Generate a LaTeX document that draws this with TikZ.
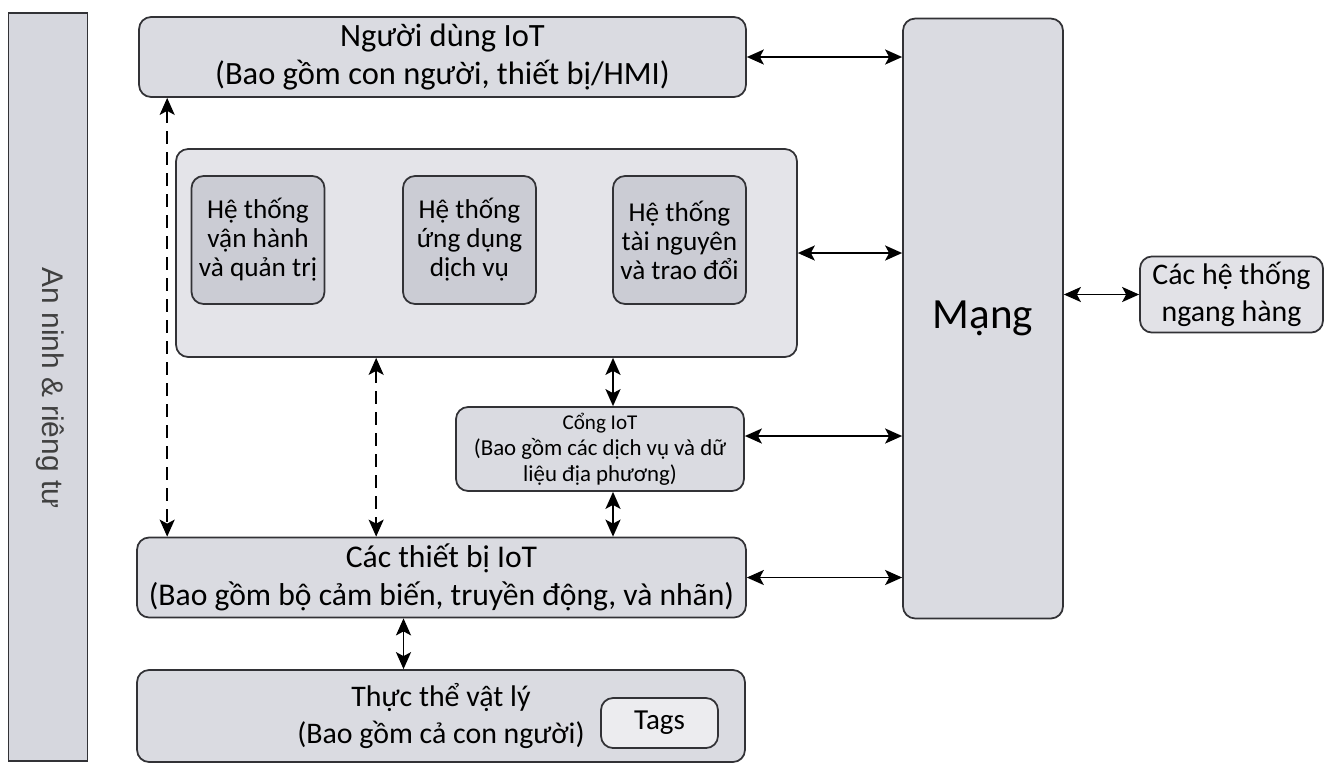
\documentclass[tikz,border=0pt]{standalone}
\usepackage{fontspec}
\setmainfont{Carlito}
\newfontfamily\barfont{Liberation Sans}
\usetikzlibrary{arrows.meta,positioning}
\definecolor{edgegray}{RGB}{50,50,54}
\definecolor{boxgray}{RGB}{218,219,225}
\definecolor{innergray}{RGB}{203,204,212}
\definecolor{appsgray}{RGB}{228,228,233}
\definecolor{bargray}{RGB}{214,215,222}
\definecolor{tagsgray}{RGB}{236,236,239}
\definecolor{peergray}{RGB}{226,226,231}
\begin{document}
\begin{tikzpicture}[x=0.02cm, y=-0.02cm,
  box/.style={draw=edgegray, line width=1pt, fill=boxgray, rounded corners=0.24cm, align=center},
  sysbox/.style={box, fill=innergray, minimum width=2.66cm, minimum height=2.56cm, font=\fontsize{15.5}{16.5}\selectfont},
  wide/.style={box, font=\fontsize{18.5}{21.5}\selectfont},
  link/.style={{Stealth[length=0.34cm,width=0.3cm,inset=0.08cm]}-{Stealth[length=0.34cm,width=0.3cm,inset=0.08cm]}, line width=1.1pt},
  dashlink/.style={link, dash pattern=on 0.26cm off 0.16cm}]
\useasboundingbox (0,0) rectangle (1324,769);
% security bar on the left
\node[draw=edgegray, line width=1pt, fill=bargray, minimum width=1.58cm, minimum height=14.96cm] (sec) at (48,387) {};
\node[rotate=-90, font=\barfont\fontsize{17}{20}\selectfont, text=black!75] (sectxt) at (50,388) {An ninh \& riêng tư};
% layers
\node[wide, minimum width=12.14cm, minimum height=1.6cm] (user) at (442.5,57) {Người dùng IoT\\(Bao gồm con người, thiết bị/HMI)};
\node[box, fill=appsgray, minimum width=12.42cm, minimum height=4.16cm] (apps) at (486.5,253) {};
\node[sysbox] (ops) at (258,240) {Hệ thống\\vận hành\\và quản trị};
\node[sysbox] (svc) at (469.5,240) {Hệ thống\\ứng dụng\\dịch vụ};
\node[sysbox] (res) at (679.5,240) {Hệ thống\\tài nguyên\\và trao đổi};
\node[box, minimum width=5.76cm, minimum height=1.56cm, font=\fontsize{13}{14.8}\selectfont] (gw) at (600,449)
  {{\fontsize{12}{14}\selectfont Cổng IoT}\\(Bao gồm các dịch vụ và dữ\\liệu địa phương)};
\node[wide, font=\fontsize{18}{21.5}\selectfont, minimum width=12.18cm, minimum height=1.6cm] (dev) at (441.5,577.5) {Các thiết bị IoT\\(Bao gồm bộ cảm biến, truyền động, và nhãn)};
\node[wide, font=\fontsize{17}{21}\selectfont, minimum width=12.16cm, minimum height=1.84cm] (phys) at (441,716) {Thực thể vật lý\\(Bao gồm cả con người)};
\node[box, fill=tagsgray, minimum width=2.34cm, minimum height=1cm, font=\fontsize{16.5}{18}\selectfont] (tags) at (659.5,723) {Tags};
% network and peers
\node[box, minimum width=3.2cm, minimum height=12cm, font=\fontsize{24.5}{30}\selectfont] (net) at (983,318.5) {Mạng};
\node[box, fill=peergray, minimum width=3.66cm, minimum height=1.52cm, font=\fontsize{17}{21}\selectfont] (peer) at (1231.5,294.5) {Các hệ thống\\ngang hàng};
% connectors
\draw[link] (user.east) -- (user.east -| net.west);
\draw[link] (apps.east) -- (apps.east -| net.west);
\draw[link] ([yshift=0.26cm]gw.east) -- ([yshift=0.26cm]gw.east -| net.west);
\draw[link] (dev.east) -- (dev.east -| net.west);
\draw[link] (net.east |- peer.west) -- (peer.west);
\draw[link] ([xshift=0.26cm]gw.north) -- ([xshift=0.26cm]gw.north |- apps.south);
\draw[link] ([xshift=0.26cm]gw.south) -- ([xshift=0.26cm]gw.south |- dev.north);
\draw[link] ([xshift=-0.76cm]dev.south) -- ([xshift=-0.76cm]dev.south |- phys.north);
\draw[dashlink] ([xshift=0.58cm]user.south west) -- ([xshift=0.58cm]user.south west |- dev.north);
\draw[dashlink] ([xshift=4.02cm]apps.south west) -- ([xshift=4.02cm]apps.south west |- dev.north);
\end{tikzpicture}
\end{document}
